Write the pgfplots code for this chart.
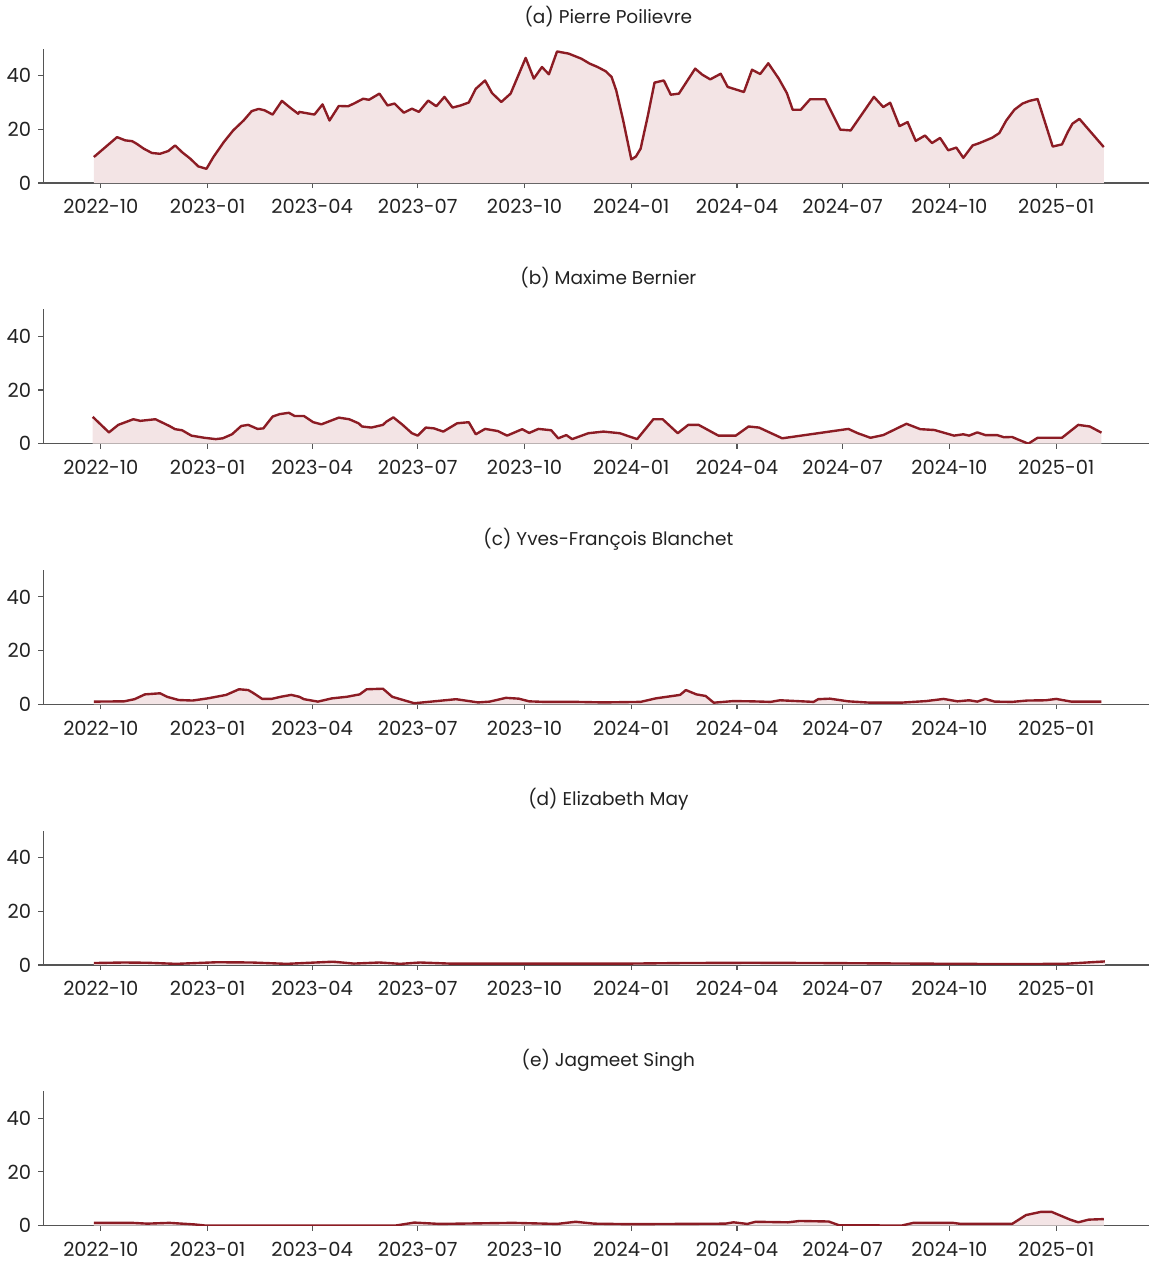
\documentclass[border=0pt]{standalone}
\usepackage{pgfplots}
\pgfplotsset{compat=1.18}
\usepackage{pgfplotstable}
\usepackage{fontspec}
\setmainfont{Poppins}
\definecolor{lc}{HTML}{8C1C24}
\definecolor{fc}{HTML}{F3E4E5}
\definecolor{axg}{HTML}{555555}
\definecolor{txt}{HTML}{222222}

\pgfplotstableread{
d v
-6 9.7
14 17.1
21 15.9
27 15.6
31 14.6
37 12.8
44 11.2
51 10.9
58 11.9
64 14.0
70 11.5
77 9.1
84 6.2
91 5.3
97 9.7
106 15.3
114 19.6
123 23.3
130 26.8
136 27.6
141 27.1
148 25.5
156 30.6
163 28.1
170 25.8
171 26.5
184 25.5
191 29.3
197 23.3
205 28.7
213 28.6
218 29.6
226 31.4
231 31.0
240 33.3
247 28.9
253 29.6
261 26.2
268 27.7
274 26.5
282 30.7
289 28.6
296 32.1
303 28.1
310 28.9
317 30.0
323 35.1
331 38.2
337 33.5
345 30.2
353 33.3
366 46.6
373 38.9
380 43.2
386 40.5
393 49.0
403 48.2
414 46.3
421 44.5
428 43.2
435 41.6
440 39.5
444 34.5
450 23.3
457 8.8
461 9.9
465 12.8
471 24.6
477 37.4
485 38.2
491 32.9
498 33.3
512 42.6
518 40.4
525 38.6
534 40.7
540 35.8
554 33.9
561 42.2
568 40.6
575 44.6
584 38.9
591 33.5
596 27.3
603 27.3
611 31.2
624 31.2
637 19.9
646 19.6
666 32.1
674 28.3
680 29.9
688 21.2
695 22.7
702 15.7
710 17.7
716 14.9
723 16.8
730 12.2
737 13.2
743 9.4
751 14.0
757 14.9
768 16.9
774 18.6
780 23.3
787 27.3
794 29.6
800 30.6
807 31.3
820 13.6
828 14.4
833 19.0
837 22.1
843 23.9
864 13.4
}\tA

\pgfplotstableread{
d v
-7 10.0
7 4.2
15 7.0
28 9.1
34 8.5
47 9.1
59 6.6
64 5.4
70 5.0
78 3.0
89 2.2
99 1.7
105 2.0
113 3.5
121 6.6
127 7.0
135 5.5
140 5.7
148 10.1
154 11.0
162 11.5
167 10.3
175 10.3
183 8.0
190 7.2
205 9.7
214 9.1
222 7.6
225 6.4
233 6.0
243 7.0
246 8.2
252 9.8
260 7.0
268 3.9
273 3.0
280 6.0
287 5.7
295 4.5
307 7.6
317 8.0
323 3.5
331 5.5
342 4.7
350 3.0
363 5.4
369 4.0
377 5.5
388 5.0
394 2.0
401 3.2
406 1.7
420 3.9
433 4.5
447 3.9
462 1.7
476 9.1
484 9.1
497 3.9
506 7.0
515 7.0
532 3.0
547 3.0
558 6.4
567 6.0
587 2.0
644 5.5
652 3.9
663 2.2
674 3.2
694 7.4
706 5.4
718 5.1
735 3.0
743 3.5
748 3.0
755 4.2
762 3.2
772 3.2
778 2.4
785 2.5
791 1.4
799 0.0
807 2.2
828 2.2
842 7.0
852 6.4
862 4.1
}\tB

\pgfplotstableread{
d v
-6 1.0
20 1.1
29 1.9
38 3.7
51 4.1
57 2.8
67 1.6
79 1.4
92 2.2
108 3.5
119 5.6
127 5.3
131 4.3
139 2.0
147 2.0
155 2.8
164 3.5
171 2.8
175 1.9
187 1.0
199 2.2
212 2.8
223 3.7
229 5.6
243 5.8
246 4.7
251 2.8
262 1.4
270 0.4
287 1.1
306 1.9
325 0.7
335 1.0
349 2.4
360 2.1
369 1.1
382 0.9
409 0.9
433 0.7
465 0.9
478 2.2
486 2.7
499 3.5
504 5.3
513 3.7
521 3.1
528 0.6
545 1.2
561 1.1
577 0.9
585 1.5
614 0.9
618 1.9
628 2.1
644 1.1
663 0.6
689 0.6
711 1.2
726 2.0
738 1.1
748 1.5
755 1.0
762 2.0
770 1.0
785 0.9
798 1.4
814 1.5
823 2.0
836 1.0
862 1.0
}\tC

\pgfplotstableread{
d v
-6 0.7
20 0.9
40 0.8
65 0.4
100 1.0
130 0.9
160 0.4
185 0.9
200 1.2
218 0.5
240 0.9
258 0.4
275 0.9
300 0.5
365 0.5
457 0.5
500 0.7
560 0.8
620 0.7
700 0.5
780 0.3
830 0.4
865 1.3
}\tD

\pgfplotstableread{
d v
-6 1.0
27 1.0
40 0.7
59 1.0
81 0.4
90 0.0
254 0.0
270 1.1
292 0.6
355 1.0
393 0.6
409 1.4
425 0.7
456 0.5
538 0.7
545 1.2
557 0.6
564 1.4
592 1.2
602 1.7
627 1.5
636 0.1
690 0.0
700 1.0
734 1.0
741 0.6
785 0.6
797 3.9
810 5.1
819 5.1
835 2.2
842 1.2
851 2.2
864 2.4
}\tE

\pgfplotsset{
  panel/.style={
    scale only axis, width=556pt, height=67.5pt,
    xmin=-49.7, xmax=903.2, ymin=0, ymax=50,
    axis x line*=bottom, axis y line*=left,
    ytick={0,20,40},
    xtick={0,92,182,273,365,457,548,639,731,823},
    xticklabels={2022-10,2023-01,2023-04,2023-07,2023-10,2024-01,2024-04,2024-07,2024-10,2025-01},
    tick align=outside, major tick length=2.5pt,
    axis line style={draw=axg, line width=0.6pt},
    tick style={draw=axg, line width=0.6pt},
    ticklabel style={font=\fontsize{9.8}{11}\selectfont, text=txt},
    xticklabel style={yshift=-2.2pt},
    /pgf/number format/assume math mode=true,
    title style={at={(0.511,1)}, anchor=base, yshift=6.5pt, font=\fontsize{9.3}{10}\selectfont, text=txt},
  },
  ln/.style={draw=lc, line width=1.2pt, line join=round, mark=none},
  ar/.style={draw=none, fill=fc, mark=none},
}

\begin{document}
\begin{tikzpicture}
\begin{axis}[panel, at={(0,0)}, title={(a) Pierre Poilievre}]
\addplot[ar] table[x=d,y=v]{\tA} \closedcycle;
\addplot[ln] table[x=d,y=v]{\tA};
\end{axis}
\begin{axis}[panel, at={(0,-131pt)}, title={(b) Maxime Bernier}]
\addplot[ar] table[x=d,y=v]{\tB} \closedcycle;
\addplot[ln] table[x=d,y=v]{\tB};
\end{axis}
\begin{axis}[panel, at={(0,-262pt)}, title={(c) Yves-François Blanchet}]
\addplot[ar] table[x=d,y=v]{\tC} \closedcycle;
\addplot[ln] table[x=d,y=v]{\tC};
\end{axis}
\begin{axis}[panel, at={(0,-393pt)}, title={(d) Elizabeth May}]
\addplot[ar] table[x=d,y=v]{\tD} \closedcycle;
\addplot[ln] table[x=d,y=v]{\tD};
\end{axis}
\begin{axis}[panel, at={(0,-524pt)}, title={(e) Jagmeet Singh}]
\addplot[ar] table[x=d,y=v]{\tE} \closedcycle;
\addplot[ln] table[x=d,y=v]{\tE};
\end{axis}
\end{tikzpicture}
\end{document}
